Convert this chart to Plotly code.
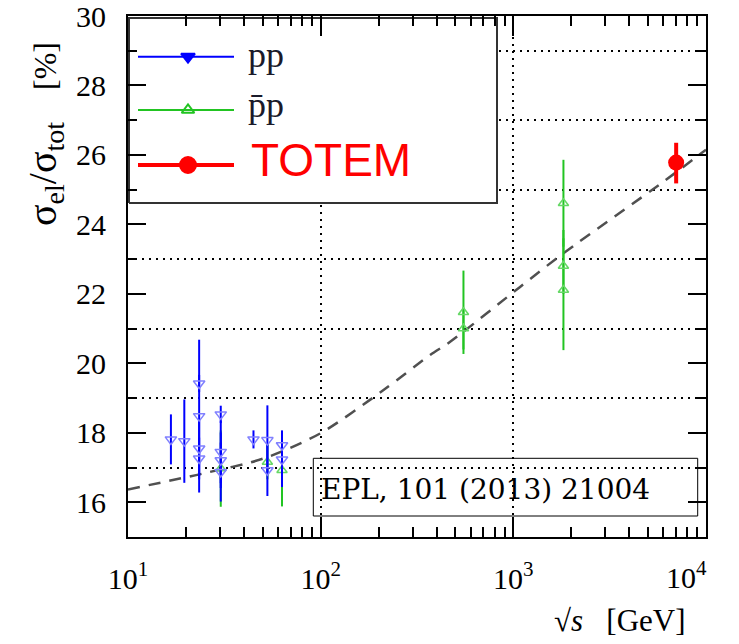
import plotly.graph_objects as go

# ---------------- data ----------------
pp_sqrts = [16.7, 19.6, 23.4, 23.4, 23.4, 23.4, 30.3, 30.3, 30.3, 30.3, 44.8, 52.9, 52.9, 63.0, 63.0]
pp_ratio = [17.81, 17.76, 19.42, 18.48, 17.55, 17.26, 18.53, 17.45, 17.21, 16.87, 17.81, 17.79, 16.92, 17.64, 17.23]
pp_err = [0.72, 1.20, 0.25, 2.20, 0.80, 0.60, 0.25, 0.90, 0.80, 0.85, 0.26, 1.00, 0.74, 0.43, 0.79]

pbar_sqrts = [30.3, 52.9, 63.0, 551, 551, 1820, 1820, 1820]
pbar_ratio = [16.97, 17.16, 16.92, 21.47, 21.00, 24.61, 22.80, 22.11]
pbar_err = [1.10, 0.50, 1.04, 1.20, 0.60, 1.25, 0.80, 1.73]

totem_sqrts = [7000]
totem_ratio = [25.78]
totem_err_up = [0.57]
totem_err_down = [0.60]

fit_sqrts = [10, 24.6, 50.5, 99.3, 212, 370, 470, 1084, 1820, 6012, 10000]
fit_ratio = [16.37, 16.83, 17.26, 17.98, 19.23, 20.24, 20.62, 22.20, 23.17, 25.23, 26.15]

x_tickvals = [10, 100, 1000, 10000]
x_ticktext = ["10<sup>1</sup>", "10<sup>2</sup>", "10<sup>3</sup>", ""]
x_last_label = "10<sup>4</sup>"
y_tickvals = [16, 18, 20, 22, 24, 26, 28, 30]
y_ticktext = ["16", "18", "20", "22", "24", "26", "28", "30"]

legend_labels = ["pp", "p\u0304p", "TOTEM"]
reference_text = "EPL, 101 (2013) 21004"

# ---------------- figure ----------------
SERIF = "Liberation Serif, Times New Roman, Times, serif"
fig = go.Figure()

# fit curve
fig.add_trace(go.Scatter(
    x=fit_sqrts, y=fit_ratio, mode="lines",
    line=dict(color="#505050", width=2.5, dash="12px,9px", shape="spline", smoothing=0.8),
    hoverinfo="skip"))

# pbar p
fig.add_trace(go.Scatter(
    x=pbar_sqrts, y=pbar_ratio, mode="markers",
    marker=dict(symbol="triangle-up-open", size=9, color="#66d866", line=dict(width=1.5)),
    error_y=dict(type="data", array=pbar_err, color="#22c422", thickness=2, width=0)))

# pp
fig.add_trace(go.Scatter(
    x=pp_sqrts, y=pp_ratio, mode="markers",
    marker=dict(symbol="triangle-down-open", size=10, color="#8080ff", line=dict(width=1.5)),
    error_y=dict(type="data", array=pp_err, color="#0000ff", thickness=2, width=0)))

# TOTEM
fig.add_trace(go.Scatter(
    x=totem_sqrts, y=totem_ratio, mode="markers",
    marker=dict(symbol="circle", size=16, color="#ff0000"),
    error_y=dict(type="data", symmetric=False, array=totem_err_up, arrayminus=totem_err_down,
                 color="#ff0000", thickness=4, width=0)))

# ---------------- manual legend (on an overlay axis in plot-fraction units) ----------------
PX0, PX1, PY0, PY1 = 128, 706, 16, 537
def px(x):
    return (x - PX0) / (PX1 - PX0)
def py(y):
    return (PY1 - y) / (PY1 - PY0)

bx0, bx1, by0, by1 = px(129), px(497), py(203), py(18)
fig.add_trace(go.Scatter(
    x=[bx0, bx1, bx1, bx0, bx0], y=[by0, by0, by1, by1, by0],
    xaxis="x2", yaxis="y2", mode="lines", fill="toself", fillcolor="white",
    line=dict(color="#333333", width=2), hoverinfo="skip"))

leg_rows = [
    dict(y=56.7, color="#0000ff", width=2, symbol="triangle-down", size=12, mcolor="#0000ff"),
    dict(y=110, color="#22c422", width=2, symbol="triangle-up-open", size=11, mcolor="#22c422"),
    dict(y=165, color="#ff0000", width=4, symbol="circle", size=16, mcolor="#ff0000"),
]
for row in leg_rows:
    fig.add_trace(go.Scatter(
        x=[px(138), px(188), px(234)], y=[py(row["y"])] * 3,
        xaxis="x2", yaxis="y2", mode="lines",
        line=dict(color=row["color"], width=row["width"]), hoverinfo="skip"))
    fig.add_trace(go.Scatter(
        x=[px(188)], y=[py(row["y"])], xaxis="x2", yaxis="y2", mode="markers",
        marker=dict(symbol=row["symbol"], size=row["size"], color=row["mcolor"],
                    line=dict(width=2, color=row["mcolor"])), hoverinfo="skip"))

fig.add_annotation(x=px(246), y=py(55), xref="paper", yref="paper", text=legend_labels[0],
                   showarrow=False, xanchor="left", yanchor="middle",
                   font=dict(family=SERIF, size=36, color="#1a1a2a"))
fig.add_annotation(x=px(246), y=py(105), xref="paper", yref="paper", text=legend_labels[1],
                   showarrow=False, xanchor="left", yanchor="middle",
                   font=dict(family=SERIF, size=36, color="#1a1a2a"))
fig.add_annotation(x=px(249), y=py(160), xref="paper", yref="paper", text=legend_labels[2],
                   showarrow=False, xanchor="left", yanchor="middle",
                   font=dict(family="Liberation Sans, Arial, sans-serif", size=46, color="#ff0000"))

# reference box
fig.add_shape(type="rect", xref="paper", yref="paper",
              x0=px(313.3), x1=px(697.7), y0=py(516), y1=py(458.3),
              line=dict(color="black", width=1), fillcolor="rgba(0,0,0,0)", layer="above")
fig.add_annotation(x=px(319), y=py(489), xref="paper", yref="paper", text=reference_text,
                   showarrow=False, xanchor="left", yanchor="middle",
                   font=dict(family="DejaVu Serif, serif", size=28, color="black"))

# axis titles
fig.add_annotation(x=px(45), y=py(134), xref="paper", yref="paper",
                   text=("<span style='font-size:40px'>\u03c3<sub>el</sub>/\u03c3<sub>tot</sub></span>"
                         "    <span style='font-size:32px'>[%]</span>"),
                   textangle=-90,
                   showarrow=False, xanchor="center", yanchor="middle",
                   font=dict(family=SERIF, size=32, color="black"))
fig.add_annotation(x=px(620), y=py(620), xref="paper", yref="paper",
                   text="\u221a<i>s</i>   [GeV]",
                   showarrow=False, xanchor="center", yanchor="middle",
                   font=dict(family=SERIF, size=31, color="black"))
fig.add_annotation(x=px(686), y=py(575), xref="paper", yref="paper",
                   text=x_last_label,
                   showarrow=False, xanchor="center", yanchor="middle",
                   font=dict(family=SERIF, size=30, color="black"))

minor_x = [m * 10 ** d for d in (1, 2, 3) for m in range(2, 10)]
minor_y = [17, 19, 21, 23, 25, 27, 29]

fig.update_layout(
    width=739, height=644,
    margin=dict(l=128, r=33, t=16, b=107),
    plot_bgcolor="white", paper_bgcolor="white",
    showlegend=False,
    xaxis=dict(type="log", range=[1, 4], tickmode="array", tickvals=x_tickvals, ticktext=x_ticktext,
               ticks="inside", ticklen=20, tickwidth=2, tickcolor="black",
               showline=True, linewidth=2, linecolor="black", mirror="ticks",
               showgrid=True, gridcolor="black", gridwidth=2, griddash="2px,5px",
               zeroline=False, ticklabelstandoff=14, automargin=False, ticklabeloverflow="allow",
               tickfont=dict(family=SERIF, size=30, color="black"),
               minor=dict(tickmode="array", tickvals=minor_x, ticks="inside", ticklen=10,
                          tickwidth=1.5, tickcolor="black", showgrid=False)),
    yaxis=dict(range=[15, 30], tickmode="array", tickvals=y_tickvals, ticktext=y_ticktext,
               ticks="inside", ticklen=18, tickwidth=2, tickcolor="black",
               showline=True, linewidth=2, linecolor="black", mirror="ticks",
               showgrid=False, zeroline=False, ticklabelstandoff=14, automargin=False,
               ticklabeloverflow="allow",
               tickfont=dict(family=SERIF, size=30, color="black"),
               minor=dict(tickmode="array", tickvals=minor_y, ticks="inside", ticklen=9,
                          tickwidth=2, tickcolor="black",
                          showgrid=True, gridcolor="black", gridwidth=2, griddash="2px,5px")),
    xaxis2=dict(overlaying="x", range=[0, 1], visible=False, fixedrange=True),
    yaxis2=dict(overlaying="y", range=[0, 1], visible=False, fixedrange=True),
)

fig.write_html("out.html")
